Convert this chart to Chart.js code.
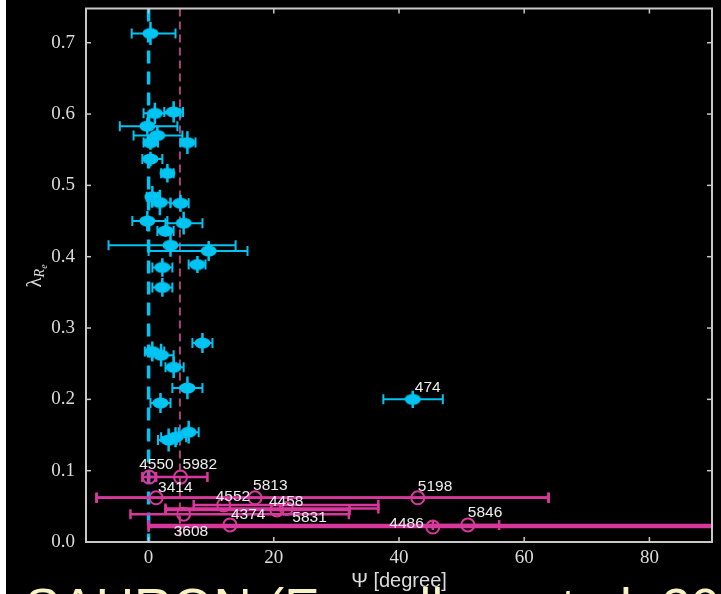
<!DOCTYPE html>
<html>
<head>
<meta charset="utf-8">
<script src="https://cdn.jsdelivr.net/npm/chart.js@4.4.0/dist/chart.umd.min.js"></script>
<style>
  html, body { margin: 0; padding: 0; background: #000; overflow: hidden; }
  #wrap { position: relative; width: 721px; height: 594px; overflow: hidden; }
  #edge { position: absolute; left: 0; top: 0; width: 6px; height: 594px; background: #fff; }
  #caption { position: absolute; left: 25px; top: 581px; font: 53px "Liberation Sans", Arial, sans-serif; line-height: 53px; color: #f7f1c4; white-space: nowrap; }
</style>
</head>
<body>
<div id="wrap">
  <canvas id="psiChart" width="721" height="594"></canvas>
  <div id="edge"></div>
  <div id="caption">SAURON (Emsellem et al. 2007)</div>
</div>
<script>
// fast rotators (cyan, filled)
const fastX   = [0.3, 1.0, 4.0, -0.2, 1.4, 6.2, 0.3, 0.3, 3.0, 0.6, 1.8, 5.1, -0.2, 5.6, 2.7, 3.5, 9.6, 7.8, 2.2, 2.2, 8.6, 0.6, 2.0, 4.0, 6.2, 1.9, 6.4, 4.3, 3.2, 42.2];
const fastY   = [0.713, 0.601, 0.603, 0.583, 0.570, 0.560, 0.560, 0.537, 0.517, 0.484, 0.476, 0.475, 0.450, 0.447, 0.436, 0.416, 0.408, 0.389, 0.385, 0.357, 0.279, 0.267, 0.262, 0.245, 0.216, 0.195, 0.154, 0.147, 0.143, 0.200];
const fastXLo = [-2.7, -0.8, 2.5, -4.6, -2.4, 5.1, -0.8, -1.0, 2.0, -0.3, 0.5, 3.5, -2.6, 2.7, 1.4, -6.4, 0.0, 6.4, 0.6, 0.6, 7.0, -0.6, 0.5, 2.7, 3.8, 0.3, 4.8, 2.0, 1.5, 37.5];
const fastXHi = [4.3, 5.1, 5.5, 4.6, 5.4, 7.5, 1.5, 2.2, 4.0, 1.5, 3.5, 6.4, 3.0, 8.6, 4.0, 13.9, 15.8, 9.1, 3.8, 3.8, 10.2, 2.5, 4.0, 5.6, 8.6, 3.5, 8.0, 6.0, 4.5, 47.0];
const fastYErr = [0.016, 0.015, 0.015, 0.012, 0.014, 0.016, 0.010, 0.010, 0.013, 0.015, 0.018, 0.012, 0.014, 0.016, 0.008, 0.016, 0.014, 0.012, 0.013, 0.013, 0.014, 0.014, 0.016, 0.015, 0.016, 0.014, 0.016, 0.014, 0.016, 0.012];
const fastNames = ["", "", "", "", "", "", "", "", "", "", "", "", "", "", "", "", "", "", "", "", "", "", "", "", "", "", "", "", "", "474"];

// slow rotators (magenta, open)
const slowNames = ["4550", "5982", "3414", "5813", "4552", "4458", "5831", "3608", "4374", "4486", "5846", "5198"];
const slowX     = [0.1, 5.1, 1.2, 17.0, 12.0, 20.5, 22.0, 5.6, 13.0, 45.4, 51.0, 43.0];
const slowY     = [0.091, 0.091, 0.062, 0.062, 0.052, 0.045, 0.047, 0.039, 0.024, 0.021, 0.024, 0.062];
const slowXLo   = [-1.0, 0.0, -8.3, -8.3, 7.2, 2.7, 2.7, -2.9, 0.0, 0.0, 45.4, -8.3];
const slowXHi   = [1.2, 9.4, 63.9, 63.9, 36.7, 32.1, 36.7, 32.0, 100, 100, 56.0, 63.9];

const xTicks = [0, 20, 40, 60, 80];
const yTicks = [0, 0.1, 0.2, 0.3, 0.4, 0.5, 0.6, 0.7];
const psiLines = [0, 5];

const CYAN = "#00c4f2";
const PINK = "#d8389c";
const FRAME = "#c8c8c8";
const TEXT = "#dcdcdc";

// label placement relative to each marker: [dx, dy, align]
const labelPos = {
  "474": [2, -12, "left"], "4550": [-10, -12, "left"], "5982": [2, -12, "left"],
  "3414": [2, -10, "left"], "5813": [-2, -12, "left"], "4552": [-8, -8, "left"],
  "4458": [-8, -8, "left"], "5831": [6, 9, "left"], "3608": [-10, 18, "left"],
  "4374": [1, -10, "left"], "4486": [-9, -3, "right"], "5846": [0, -12, "left"],
  "5198": [0, -11, "left"]
};

// filled ellipse marker for the cyan points
const blob = document.createElement("canvas");
blob.width = 17; blob.height = 12;
(function () {
  const c = blob.getContext("2d");
  c.fillStyle = CYAN;
  c.beginPath();
  c.ellipse(8.5, 6, 8, 5.5, 0, 0, Math.PI * 2);
  c.fill();
})();

function seg(ctx, x0, y0, x1, y1) {
  ctx.beginPath(); ctx.moveTo(x0, y0); ctx.lineTo(x1, y1); ctx.stroke();
}

const errorBars = {
  id: "errorBars",
  beforeDatasetsDraw(chart) {
    const { ctx, chartArea: a, scales: { x, y } } = chart;
    ctx.save();
    ctx.beginPath();
    ctx.rect(a.left, a.top, a.right - a.left, a.bottom - a.top);
    ctx.clip();

    // reference lines at Psi = 0 and 5
    ctx.strokeStyle = CYAN; ctx.lineWidth = 3.5; ctx.setLineDash([13, 8]);
    seg(ctx, x.getPixelForValue(psiLines[0]), a.top, x.getPixelForValue(psiLines[0]), a.bottom);
    ctx.strokeStyle = "#a84878"; ctx.lineWidth = 2; ctx.setLineDash([8, 5]);
    seg(ctx, x.getPixelForValue(psiLines[1]), a.top, x.getPixelForValue(psiLines[1]), a.bottom);
    ctx.setLineDash([]);

    // cyan error bars
    ctx.strokeStyle = CYAN; ctx.lineWidth = 2;
    fastX.forEach((v, i) => {
      const px = x.getPixelForValue(v), py = y.getPixelForValue(fastY[i]);
      const x0 = x.getPixelForValue(fastXLo[i]), x1 = x.getPixelForValue(fastXHi[i]);
      const y0 = y.getPixelForValue(fastY[i] - fastYErr[i]), y1 = y.getPixelForValue(fastY[i] + fastYErr[i]);
      seg(ctx, x0, py, x1, py);
      seg(ctx, x0, py - 5, x0, py + 5);
      seg(ctx, x1, py - 5, x1, py + 5);
      ctx.lineWidth = 2.5;
      seg(ctx, px, y0, px, y1);
      ctx.lineWidth = 2;
    });

    // magenta error bars
    ctx.strokeStyle = PINK; ctx.lineWidth = 2.5;
    slowX.forEach((v, i) => {
      const py = y.getPixelForValue(slowY[i]);
      const x0 = x.getPixelForValue(slowXLo[i]), x1 = x.getPixelForValue(slowXHi[i]);
      seg(ctx, x0, py, x1, py);
      seg(ctx, x0, py - 5, x0, py + 5);
      seg(ctx, x1, py - 5, x1, py + 5);
    });
    ctx.restore();
  },
  afterDatasetsDraw(chart) {
    const { ctx, chartArea: a, scales: { x, y } } = chart;
    ctx.save();

    // point labels
    ctx.font = '15.5px "Liberation Sans", Arial, sans-serif';
    ctx.fillStyle = "#eeeeee";
    ctx.textBaseline = "middle";
    const put = (name, vx, vy) => {
      if (!name) return;
      const p = labelPos[name] || [2, -12, "left"];
      ctx.textAlign = p[2];
      ctx.fillText(name, x.getPixelForValue(vx) + p[0], y.getPixelForValue(vy) + p[1]);
    };
    fastNames.forEach((n, i) => put(n, fastX[i], fastY[i]));
    slowNames.forEach((n, i) => put(n, slowX[i], slowY[i]));

    // frame with inward ticks
    ctx.strokeStyle = FRAME; ctx.lineWidth = 2;
    ctx.strokeRect(a.left, a.top, a.right - a.left, a.bottom - a.top);
    ctx.lineWidth = 1.5;
    xTicks.forEach(t => {
      const px = x.getPixelForValue(t);
      seg(ctx, px, a.bottom, px, a.bottom - 5);
      seg(ctx, px, a.top, px, a.top + 5);
    });
    yTicks.forEach(t => {
      const py = y.getPixelForValue(t);
      seg(ctx, a.left, py, a.left + 5, py);
      seg(ctx, a.right, py, a.right - 5, py);
    });

    // axis titles
    ctx.fillStyle = TEXT;
    ctx.textAlign = "center";
    ctx.textBaseline = "alphabetic";
    ctx.font = '20px "Liberation Sans", Arial, sans-serif';
    ctx.fillText("\u03A8 [degree]", (a.left + a.right) / 2, 587);

    ctx.translate(35, 276);
    ctx.rotate(-Math.PI / 2);
    ctx.textAlign = "left";
    const f1 = '21px "Liberation Serif", serif';
    const f2 = 'italic 14px "Liberation Serif", serif';
    const f3 = 'italic 10px "Liberation Serif", serif';
    ctx.font = f1; const w1 = ctx.measureText("\u03BB").width;
    ctx.font = f2; const w2 = ctx.measureText("R").width;
    ctx.font = f3; const w3 = ctx.measureText("e").width;
    let cx = -(w1 + w2 + w3) / 2;
    ctx.font = f1; ctx.fillText("\u03BB", cx, 6); cx += w1;
    ctx.font = f2; ctx.fillText("R", cx, 9); cx += w2;
    ctx.font = f3; ctx.fillText("e", cx, 12);
    ctx.restore();
  }
};

const ctx = document.getElementById("psiChart").getContext("2d");

const psiChart = new Chart(ctx, {
  type: "scatter",
  data: {
    datasets: [
      {
        label: "fast",
        data: fastX.map((v, i) => ({ x: v, y: fastY[i] })),
        pointStyle: blob,
        pointRadius: 6,
      },
      {
        label: "slow",
        data: slowX.map((v, i) => ({ x: v, y: slowY[i] })),
        pointStyle: "circle",
        pointRadius: 6.5,
        borderWidth: 2,
        borderColor: PINK,
        backgroundColor: "rgba(0,0,0,0)",
      },
    ],
  },
  options: {
    responsive: false,
    animation: false,
    events: [],
    layout: { padding: { top: 8, right: 9, left: 0, bottom: 0 } },
    plugins: { legend: { display: false }, tooltip: { enabled: false } },
    scales: {
      x: {
        type: "linear",
        min: -10,
        max: 90,
        afterBuildTicks: (s) => { s.ticks = xTicks.map(v => ({ value: v })); },
        afterFit: (s) => { s.height = 52; s.paddingLeft = 0; s.paddingRight = 0; },
        grid: { display: false, drawTicks: false },
        border: { display: false },
        ticks: {
          autoSkip: false,
          maxRotation: 0,
          padding: 5,
          color: TEXT,
          font: { family: '"Liberation Serif", serif', size: 19 },
        },
      },
      y: {
        type: "linear",
        min: 0,
        max: 0.748,
        afterBuildTicks: (s) => { s.ticks = yTicks.map(v => ({ value: v })); },
        afterFit: (s) => { s.width = 86; s.paddingTop = 0; s.paddingBottom = 0; },
        grid: { display: false, drawTicks: false },
        border: { display: false },
        ticks: {
          autoSkip: false,
          padding: 11,
          color: TEXT,
          font: { family: '"Liberation Serif", serif', size: 19 },
          callback: (v) => Number(v).toFixed(1),
        },
      },
    },
  },
  plugins: [errorBars],
});
</script>
</body>
</html>
